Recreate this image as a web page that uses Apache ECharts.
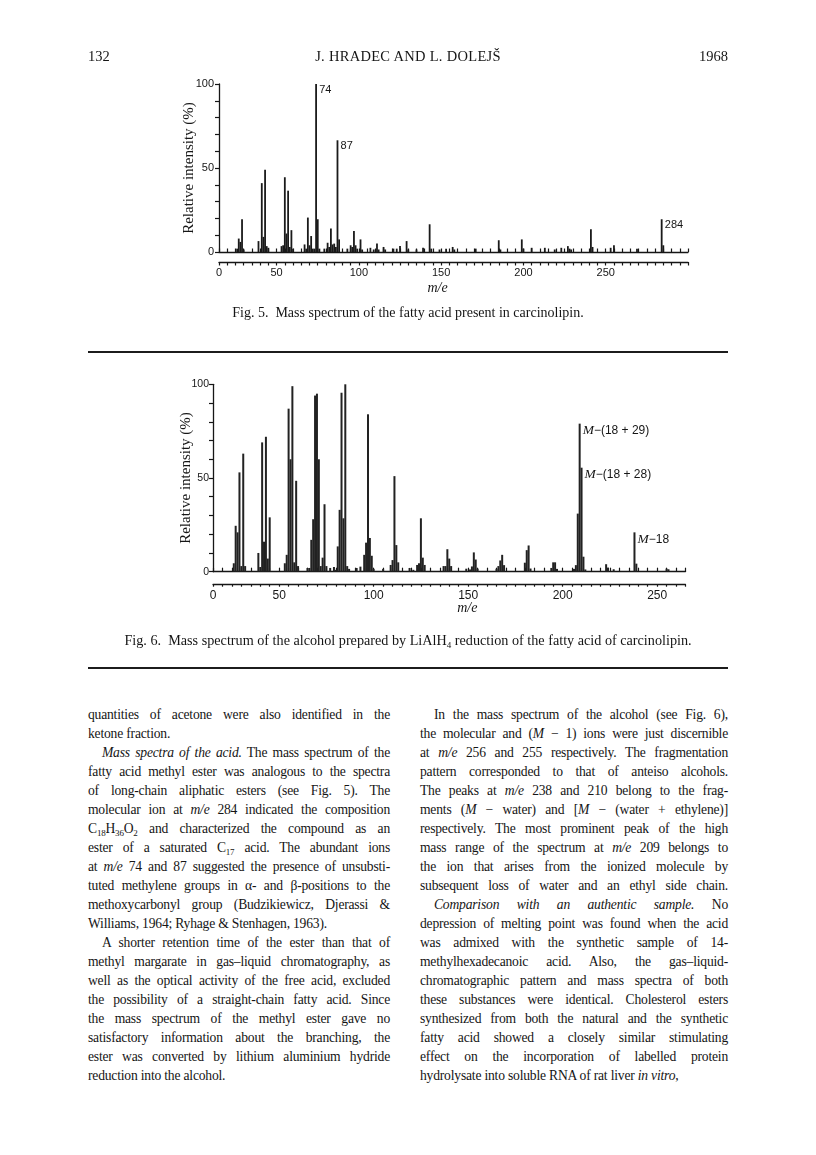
<!DOCTYPE html>
<html><head><meta charset="utf-8"><title>Hradec &amp; Dolejš 1968, p. 132</title>
<script src="https://cdn.jsdelivr.net/npm/echarts@6.0.0/dist/echarts.min.js"></script>
<style>
html,body{margin:0;padding:0;background:#fff;}
#page{position:relative;width:816px;height:1155px;overflow:hidden;background:#fff;color:#151515;font-family:"Liberation Serif","DejaVu Serif",serif;}
#chart{position:absolute;left:0;top:0;width:816px;height:700px;}
.t{position:absolute;white-space:nowrap;line-height:18px;}
.rule{position:absolute;left:88px;width:640px;height:2px;background:#1c1c1c;}
.col{position:absolute;top:705px;font-size:13.6px;line-height:19px;letter-spacing:-0.2px;}
.col div{text-align:justify;text-align-last:justify;height:19px;white-space:nowrap;}
.col div.e{text-align-last:left;}
.col div.p{text-indent:14px;}
sub{font-size:9px;line-height:0;vertical-align:-3px;}
</style></head>
<body><div id="page">
<div id="chart"></div>

<div class="t" style="left:88px;top:47px;font-size:14.5px;">132</div>
<div class="t" style="left:88px;width:640px;top:47px;font-size:14.5px;text-align:center;letter-spacing:0.3px;">J. HRADEC AND L. DOLEJŠ</div>
<div class="t" style="left:628px;width:100px;top:47px;font-size:14.5px;text-align:right;">1968</div>

<div class="t" style="left:88px;width:640px;top:304px;font-size:14px;text-align:center;">Fig. 5.&nbsp; Mass spectrum of the fatty acid present in carcinolipin.</div>
<div class="rule" style="top:351px;"></div>
<div class="t" style="left:88px;width:640px;top:631px;font-size:14.2px;text-align:center;">Fig. 6.&nbsp; Mass spectrum of the alcohol prepared by LiAlH<sub>4</sub> reduction of the fatty acid of carcinolipin.</div>
<div class="rule" style="top:667px;"></div>

<div class="col" style="left:88px;width:302px;">
<div>quantities of acetone were also identified in the</div>
<div class="e">ketone fraction.</div>
<div class="p"><i>Mass spectra of the acid.</i> The mass spectrum of the</div>
<div>fatty acid methyl ester was analogous to the spectra</div>
<div>of long-chain aliphatic esters (see Fig. 5). The</div>
<div>molecular ion at <i>m/e</i> 284 indicated the composition</div>
<div>C<sub>18</sub>H<sub>36</sub>O<sub>2</sub> and characterized the compound as an</div>
<div>ester of a saturated C<sub>17</sub> acid. The abundant ions</div>
<div>at <i>m/e</i> 74 and 87 suggested the presence of unsubsti-</div>
<div>tuted methylene groups in α- and β-positions to the</div>
<div>methoxycarbonyl group (Budzikiewicz, Djerassi &amp;</div>
<div class="e">Williams, 1964; Ryhage &amp; Stenhagen, 1963).</div>
<div class="p">A shorter retention time of the ester than that of</div>
<div>methyl margarate in gas–liquid chromatography, as</div>
<div>well as the optical activity of the free acid, excluded</div>
<div>the possibility of a straight-chain fatty acid. Since</div>
<div>the mass spectrum of the methyl ester gave no</div>
<div>satisfactory information about the branching, the</div>
<div>ester was converted by lithium aluminium hydride</div>
<div class="e">reduction into the alcohol.</div>
</div>

<div class="col" style="left:420px;width:308px;">
<div class="p">In the mass spectrum of the alcohol (see Fig. 6),</div>
<div>the molecular and (<i>M</i> − 1) ions were just discernible</div>
<div>at <i>m/e</i> 256 and 255 respectively. The fragmentation</div>
<div>pattern corresponded to that of anteiso alcohols.</div>
<div>The peaks at <i>m/e</i> 238 and 210 belong to the frag-</div>
<div>ments (<i>M</i> − water) and [<i>M</i> − (water + ethylene)]</div>
<div>respectively. The most prominent peak of the high</div>
<div>mass range of the spectrum at <i>m/e</i> 209 belongs to</div>
<div>the ion that arises from the ionized molecule by</div>
<div>subsequent loss of water and an ethyl side chain.</div>
<div class="p"><i>Comparison with an authentic sample.</i> No</div>
<div>depression of melting point was found when the acid</div>
<div>was admixed with the synthetic sample of 14-</div>
<div>methylhexadecanoic acid. Also, the gas–liquid-</div>
<div>chromatographic pattern and mass spectra of both</div>
<div>these substances were identical. Cholesterol esters</div>
<div>synthesized from both the natural and the synthetic</div>
<div>fatty acid showed a closely similar stimulating</div>
<div>effect on the incorporation of labelled protein</div>
<div class="e">hydrolysate into soluble RNA of rat liver <i>in vitro</i>,</div>
</div>
</div>

<script>
// ---- Fig. 5: fatty acid methyl ester, [m/e, relative intensity %] ----
const fig5Peaks = [
  [26,2],[27,8],[28,6],[29,19.5],[30,1.5],
  [39,6.5],[41,41],[42,9],[43,49],[44,3.5],[45,2.5],
  [53,3.5],[54,4],[55,44.5],[56,11],[57,36.5],[58,3],[59,13],[60,2],
  [67,4.5],[68,2],[69,20.5],[70,4],[71,9.5],[72,2],[73,2],[74,100],[75,19.5],[76,2],
  [79,2],[81,5.5],[82,3],[83,14],[84,4.5],[85,5],[86,3],[87,66.5],[88,7.5],
  [93,2],[95,4],[96,3],[97,12.5],[98,4],[99,2],[101,7.5],[102,1.5],
  [107,2.5],[109,1.5],[111,5],[112,1.5],[115,3],[116,1.5],[121,2],[123,2],[125,3.5],
  [129,6.5],[130,1.5],[135,1.5],[139,2.5],[143,16.5],[144,2],[149,1.5],[153,2],
  [157,3],[158,1.5],[171,2],[185,7],[186,1.5],[199,7.5],[200,2],[205,2.5],[213,2.5],
  [219,1.5],[223,2.5],[227,3.5],[228,2],[229,1.5],[241,13.5],[242,3],[253,2.5],
  [255,4],[269,2],[284,19.5],[285,4]
];
const fig5PeakLabels = [[74,'74'],[87,'87'],[284,'284']];

// ---- Fig. 6: alcohol after LiAlH4 reduction, [m/e, relative intensity %] ----
const fig6Peaks = [
  [26,4.5],[27,24.5],[28,21],[29,53],[30,3],[31,63],[32,3],
  [39,10],[40,2.5],[41,69],[42,16],[43,72],[44,7],[45,29],
  [53,4.5],[54,9],[55,87],[56,60],[57,99],[58,5],[59,48.5],[60,3],
  [65,2],[66,2],[67,17],[68,28],[69,94],[70,95],[71,60],[72,3],[73,7.5],[74,36],[75,3],
  [77,2],[79,2.5],[80,1],[81,13.5],[82,33],[83,95.5],[84,28.5],[85,100],[86,3],[87,1.5],
  [91,2],[93,2.7],[95,9],[96,15.5],[97,84],[98,18],[99,8.5],[100,1.5],
  [105,1.5],[109,3.6],[110,6.2],[111,51],[112,14.2],[113,5],
  [119,2],[121,1],[123,3.6],[124,4.5],[125,28.5],[126,7.5],[127,3.6],
  [137,3],[138,3],[139,12],[140,7],[141,3],
  [149,1.6],[151,1.2],[152,2.8],[153,10.3],[154,6.5],[155,1.6],
  [165,1.5],[166,3],[167,6],[168,9],[169,3.5],
  [180,4.8],[181,11.5],[182,14],[183,1.7],
  [194,2],[195,5],[196,5],[197,1.5],
  [206,1.5],[207,3.5],[208,31],[209,79],[210,55.5],[211,8],[212,1.2],
  [223,4],[224,2.2],[227,1.3],
  [238,21],[239,4.3],
  [255,1.6],[256,1.3]
];
const fig6PeakLabels = [[209,'M−(18 + 29)'],[210,'M−(18 + 28)'],[238,'M−18']];

// ---- axis tick labels ----
const xStartLabel = '0';
const xLabelValues = [50,100,150,200,250];
const yLabelValues = [0,50,100];
const yAxisTitle = 'Relative intensity (%)';
const xAxisTitle = 'm/e';

const INK = '#161616';
const SANS = '"Liberation Sans","DejaVu Sans",sans-serif';
const SERIF = '"Liberation Serif","DejaVu Serif",serif';

function buildData(peaks, labels, rich) {
  const map = new Map(labels.map(l => [l[0], l[1]]));
  return peaks.map(p => {
    if (!map.has(p[0])) return p;
    const txt = map.get(p[0]);
    const fmt = rich && txt.startsWith('M') ? '{i|M}{t|' + txt.slice(1) + '}' : txt;
    return { value: p, label: { show: true, position: [4, 0], formatter: fmt } };
  });
}

function xAxes(gi, min, max, off, tickDown, tickUp, fs, nameGap, namePad) {
  const fmt = v => v === min ? xStartLabel : (xLabelValues.includes(v) ? String(v) : '');
  return [
    { gridIndex: gi, type: 'value', min, max, position: 'bottom',
      axisLine: { show: true, onZero: false, lineStyle: { color: INK, width: 1.3 } },
      axisTick: { show: false }, axisLabel: { show: false }, splitLine: { show: false } },
    { gridIndex: gi, type: 'value', min, max, interval: 5, position: 'bottom', offset: off,
      axisLine: { show: true, onZero: false, lineStyle: { color: INK, width: 1.3 } },
      axisTick: { show: true, inside: false, length: tickDown, lineStyle: { color: INK, width: 1.2 } },
      axisLabel: { show: true, formatter: fmt, color: INK, fontFamily: SANS, fontSize: fs, margin: 5 },
      splitLine: { show: false },
      name: xAxisTitle, nameLocation: 'middle', nameGap, nameMoveOverlap: false,
      nameTextStyle: { fontFamily: SERIF, fontStyle: 'italic', fontSize: 14, color: INK, padding: namePad } },
    { gridIndex: gi, type: 'value', min, max, interval: 5, position: 'bottom', offset: off,
      axisLine: { show: false },
      axisTick: { show: true, inside: true, length: tickUp, lineStyle: { color: INK, width: 1.2 } },
      axisLabel: { show: false }, splitLine: { show: false } }
  ];
}

function yAxis(gi, fs, margin, nameGap) {
  return { gridIndex: gi, type: 'value', min: 0, max: 100, interval: 10,
    axisLine: { show: true, lineStyle: { color: INK, width: 1.3 } },
    axisTick: { show: true, inside: false, length: 4, lineStyle: { color: INK, width: 1.2 } },
    axisLabel: { formatter: v => yLabelValues.includes(v) ? String(v) : '', color: INK,
                 fontFamily: SANS, fontSize: fs, margin },
    splitLine: { show: false },
    name: yAxisTitle, nameLocation: 'middle', nameRotate: 90, nameGap, nameMoveOverlap: false,
    nameTextStyle: { fontFamily: SERIF, fontSize: 15, color: INK } };
}

const chart = echarts.init(document.getElementById('chart'), null, { renderer: 'canvas' });
chart.setOption({
  animation: false,
  backgroundColor: 'transparent',
  grid: [
    { left: 219, top: 84, width: 469, height: 168, outerBoundsMode: 'none', containLabel: false },
    { left: 213, top: 384.3, width: 472.5, height: 187.4, outerBoundsMode: 'none', containLabel: false }
  ],
  xAxis: [
    ...xAxes(0, 15, 300, 10, 3.5, 3.5, 11, 19, [0, 32, 0, 0]),
    ...xAxes(1, 15, 265, 13, 2, 4, 12, 17, [0, 0, 0, 36])
  ],
  yAxis: [ yAxis(0, 11, 5, 22), yAxis(1, 10.5, 4, 19) ],
  series: [
    { type: 'bar', xAxisIndex: 0, yAxisIndex: 0, barWidth: 1.8,
      itemStyle: { color: '#1a1a1a' },
      label: { color: INK, fontFamily: SANS, fontSize: 11, align: 'left', verticalAlign: 'top' },
      data: buildData(fig5Peaks, fig5PeakLabels, false) },
    { type: 'bar', xAxisIndex: 3, yAxisIndex: 1, barWidth: 2,
      itemStyle: { color: '#222' },
      label: { color: INK, fontFamily: SANS, fontSize: 12, align: 'left', verticalAlign: 'top',
        rich: { i: { fontFamily: SERIF, fontStyle: 'italic', fontSize: 13.5, color: INK },
                t: { fontFamily: SANS, fontSize: 12, color: INK } } },
      data: buildData(fig6Peaks, fig6PeakLabels, true) }
  ]
});
</script>
</body></html>
